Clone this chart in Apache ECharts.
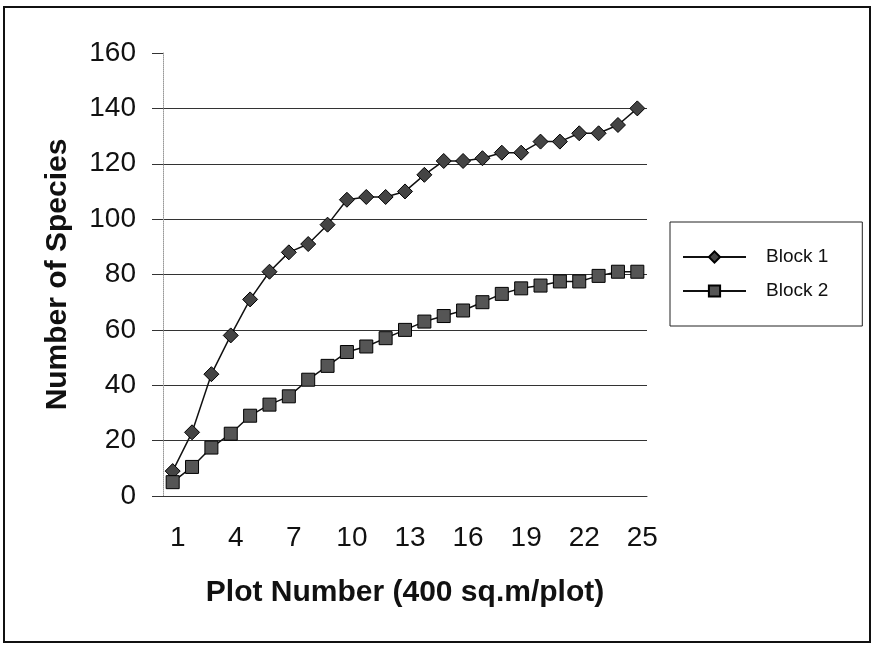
<!DOCTYPE html>
<html>
<head>
<meta charset="utf-8">
<script src="https://cdn.jsdelivr.net/npm/echarts@6/dist/echarts.min.js"></script>
<style>
html,body{margin:0;padding:0;background:#fff;}
#chart{width:879px;height:647px;}
</style>
</head>
<body>
<div id="chart"></div>
<script>
const categories = ['1','2','3','4','5','6','7','8','9','10','11','12','13','14','15','16','17','18','19','20','21','22','23','24','25'];
const block1 = [9, 23, 44, 58, 71, 81, 88, 91, 98, 107, 108, 108, 110, 116, 121, 121, 122, 124, 124, 128, 128, 131, 131, 134, 140];
const block2 = [5, 10.5, 17.5, 22.5, 29, 33, 36, 42, 47, 52, 54, 57, 60, 63, 65, 67, 70, 73, 75, 76, 77.5, 77.5, 79.5, 81, 81];
const yTicks = [0, 20, 40, 60, 80, 100, 120, 140, 160];

const chart = echarts.init(document.getElementById('chart'));
const font = "'Liberation Sans', Arial, sans-serif";
const gridColors = yTicks.map((v, i) => i === yTicks.length - 1 ? 'rgba(0,0,0,0)' : '#333');

chart.setOption({
  backgroundColor: '#fff',
  animation: false,
  graphic: [{
    type: 'rect',
    shape: {x: 4, y: 7, width: 866, height: 635},
    style: {fill: 'none', stroke: '#111', lineWidth: 2},
    silent: true
  }],
  grid: {left: 163, right: 232, top: 53, bottom: 151},
  legend: {
    orient: 'vertical',
    left: 670,
    top: 222,
    padding: [24, 34, 24, 12],
    borderColor: '#222',
    borderWidth: 1,
    itemWidth: 63,
    itemHeight: 14,
    itemGap: 12,
    textStyle: {fontFamily: font, fontSize: 19, color: '#111', lineHeight: 22, padding: [0, 0, 0, 15]},
    data: ['Block 1', 'Block 2']
  },
  xAxis: {
    type: 'category',
    data: categories,
    boundaryGap: true,
    name: 'Plot Number (400 sq.m/plot)',
    nameLocation: 'middle',
    nameGap: 82,
    nameTextStyle: {fontFamily: font, fontSize: 30, fontWeight: 'bold', color: '#111'},
    axisLine: {show: true, lineStyle: {color: '#333', width: 1}},
    axisTick: {show: false},
    axisLabel: {interval: 2, margin: 28, fontFamily: font, fontSize: 28, color: '#111', padding: [0, 0, 0, 10]},
    splitLine: {show: false}
  },
  yAxis: {
    type: 'value',
    min: 0,
    max: 160,
    interval: 20,
    name: 'Number of Species',
    nameLocation: 'middle',
    nameGap: 90,
    nameTextStyle: {fontFamily: font, fontSize: 30, fontWeight: 'bold', color: '#111'},
    axisLine: {show: true, lineStyle: {color: '#999', width: 1, type: 'dotted'}},
    axisTick: {show: true, length: 11, lineStyle: {color: '#333', width: 1}},
    axisLabel: {margin: 27, fontFamily: font, fontSize: 28, color: '#111'},
    splitLine: {show: true, lineStyle: {color: gridColors, width: 1}}
  },
  series: [
    {
      name: 'Block 1',
      type: 'line',
      data: block1,
      showAllSymbol: true,
      symbol: 'diamond',
      symbolSize: 15,
      lineStyle: {color: '#111', width: 1.5},
      itemStyle: {color: '#444', borderColor: '#000', borderWidth: 1}
    },
    {
      name: 'Block 2',
      type: 'line',
      data: block2,
      showAllSymbol: true,
      symbol: 'rect',
      symbolSize: 13,
      lineStyle: {color: '#111', width: 1.5},
      itemStyle: {color: '#555', borderColor: '#000', borderWidth: 1}
    }
  ]
});
</script>
</body>
</html>
